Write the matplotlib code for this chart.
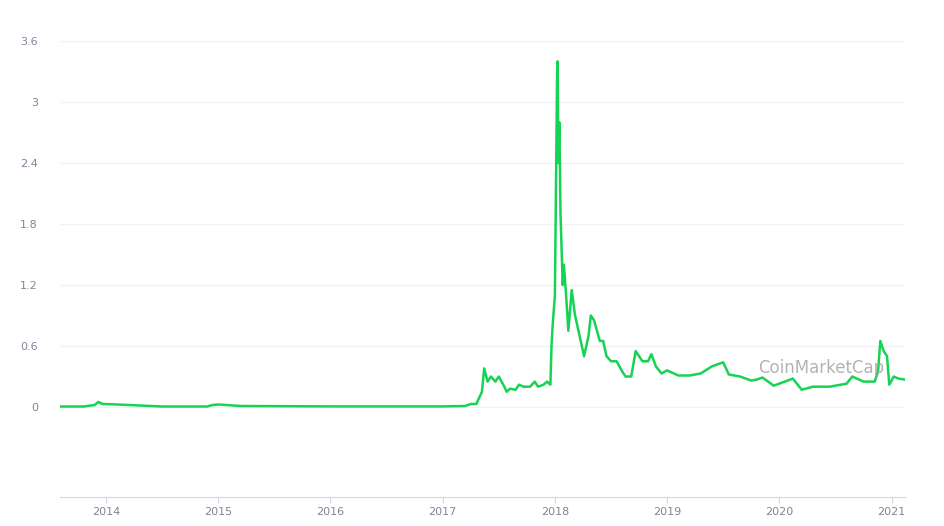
import matplotlib
matplotlib.use('Agg')
import matplotlib.pyplot as plt

# decimal year / price (USD)
years = [2013.59, 2013.8, 2013.9, 2013.93, 2013.97, 2014.1, 2014.3, 2014.5, 2014.9, 2014.95,
         2015.0, 2015.2, 2015.6, 2016.0, 2016.5, 2017.0, 2017.2, 2017.25, 2017.3, 2017.35,
         2017.37, 2017.4, 2017.43, 2017.47, 2017.5, 2017.55, 2017.57, 2017.6, 2017.65, 2017.68,
         2017.72, 2017.78, 2017.82, 2017.85, 2017.9, 2017.93, 2017.96, 2017.97, 2017.98, 2018.0,
         2018.01, 2018.02, 2018.025, 2018.03, 2018.04, 2018.05, 2018.07, 2018.08, 2018.1, 2018.12,
         2018.15, 2018.18, 2018.22, 2018.26, 2018.3, 2018.32, 2018.35, 2018.4, 2018.43, 2018.46,
         2018.5, 2018.55, 2018.6, 2018.63, 2018.68, 2018.72, 2018.75, 2018.78, 2018.83, 2018.86,
         2018.9, 2018.95, 2019.0, 2019.1, 2019.2, 2019.3, 2019.4, 2019.45, 2019.5, 2019.55,
         2019.65, 2019.75, 2019.8, 2019.85, 2019.95, 2020.05, 2020.12, 2020.2, 2020.3, 2020.45,
         2020.6, 2020.65, 2020.75, 2020.85, 2020.88, 2020.9, 2020.93, 2020.96, 2020.98, 2021.02,
         2021.06, 2021.12]
prices = [0.005, 0.005, 0.02, 0.05, 0.03, 0.025, 0.015, 0.005, 0.005, 0.02,
          0.025, 0.01, 0.008, 0.006, 0.006, 0.006, 0.01, 0.03, 0.03, 0.15,
          0.38, 0.25, 0.3, 0.25, 0.3, 0.2, 0.15, 0.18, 0.17, 0.22,
          0.2, 0.2, 0.25, 0.2, 0.22, 0.25, 0.22, 0.6, 0.8, 1.1,
          2.2, 3.3, 3.4, 2.4, 2.8, 1.9, 1.2, 1.4, 1.1, 0.75,
          1.15, 0.9, 0.7, 0.5, 0.7, 0.9, 0.85, 0.65, 0.65, 0.5,
          0.45, 0.45, 0.35, 0.3, 0.3, 0.55, 0.5, 0.45, 0.45, 0.52,
          0.4, 0.33, 0.36, 0.31, 0.31, 0.33, 0.4, 0.42, 0.44, 0.32,
          0.3, 0.26, 0.27, 0.29, 0.21, 0.25, 0.28, 0.17, 0.2, 0.2,
          0.23, 0.3, 0.25, 0.25, 0.35, 0.65, 0.55, 0.5, 0.22, 0.3,
          0.28, 0.27]
yticks = [0, 0.6, 1.2, 1.8, 2.4, 3, 3.6]
ytick_labels = ['0', '0.6', '1.2', '1.8', '2.4', '3', '3.6']
xticks = list(range(2014, 2022))

fig = plt.figure(figsize=(9.44, 5.26), dpi=100)
ax = fig.add_axes([60/944, 29/526, 845/944, 456/526])
ax.plot(years, prices, color='#16d353', lw=1.8)
ax.set_xlim(2013.59, 2021.12)
ax.set_ylim(-0.885, 3.6)
ax.set_yticks(yticks)
ax.set_yticklabels(ytick_labels)
ax.set_xticks(xticks)
ax.set_xticklabels([str(x) for x in xticks])
ax.grid(axis='y', color='#eff2f5', lw=1)
ax.set_axisbelow(True)
for s in ['left', 'right', 'top']:
    ax.spines[s].set_visible(False)
ax.spines['bottom'].set_color('#cfd6e4')
ax.tick_params(axis='y', length=0, labelsize=8, colors='#7d8699', pad=16)
ax.tick_params(axis='x', length=4, labelsize=8, colors='#7d8699', color='#cfd6e4')
ax.text(0.975, 0.283, 'CoinMarketCap', transform=ax.transAxes, ha='right', va='center',
        fontsize=12, color='#a0a0a0', alpha=0.8)
fig.savefig('out.png')
